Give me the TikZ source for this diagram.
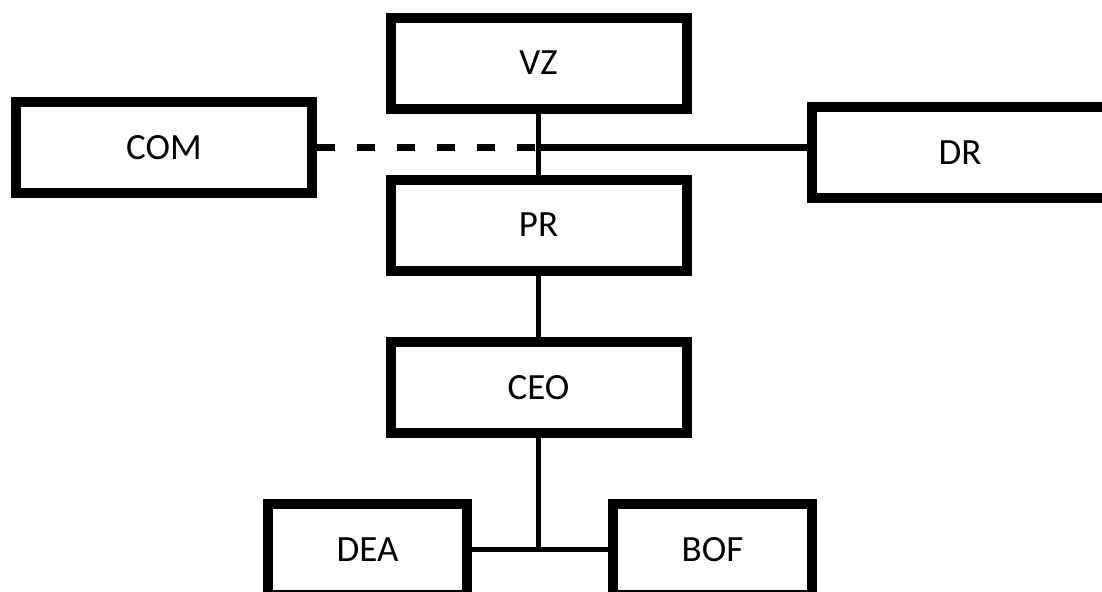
\documentclass[tikz,border=0pt]{standalone}
\usepackage{fontspec}
\setmainfont{Carlito}
\usepackage{tikz}
\tikzset{
  orgbox/.style={
    draw, rectangle, minimum height=45.5pt, minimum width=148pt, line width=5pt,
    inner sep=0pt, font=\fontsize{18.5}{22}\selectfont
  },
  smallbox/.style={
    orgbox, minimum width=99.5pt
  },
  link/.style={
    line width=2.8pt
  }
}
\begin{document}
\begin{tikzpicture}[x=0.5pt,y=-0.5pt]
  \useasboundingbox (0,0) rectangle (1102,591);
  \node[orgbox] (vz) at (538.5, 63) {VZ};
  \node[orgbox] (pr) at (538.5, 225) {PR};
  \node[orgbox] (ceo) at (538.5, 387.5) {CEO};
  \node[orgbox] (com) at (164, 147.5) {COM};
  \node[orgbox] (dr) at (960, 152.5) {DR};
  \node[smallbox] (dea) at (367.5, 549.5) {DEA};
  \node[smallbox] (bof) at (712.5, 549.5) {BOF};

  \coordinate (jt) at (vz.south |- com.east);
  \coordinate (jb) at (ceo.south |- dea.east);

  \draw[link] (vz) -- (pr);
  \draw[link] (pr) -- (ceo);
  \draw[link] (ceo) -- (jb);
  \draw[link] (dea) -- (bof);
  \draw[line width=3.5pt, dash pattern=on 9pt off 11pt] (com) -- (jt);
  \draw[line width=3.2pt] (jt) -- (jt -| dr.west);
\end{tikzpicture}
\end{document}
